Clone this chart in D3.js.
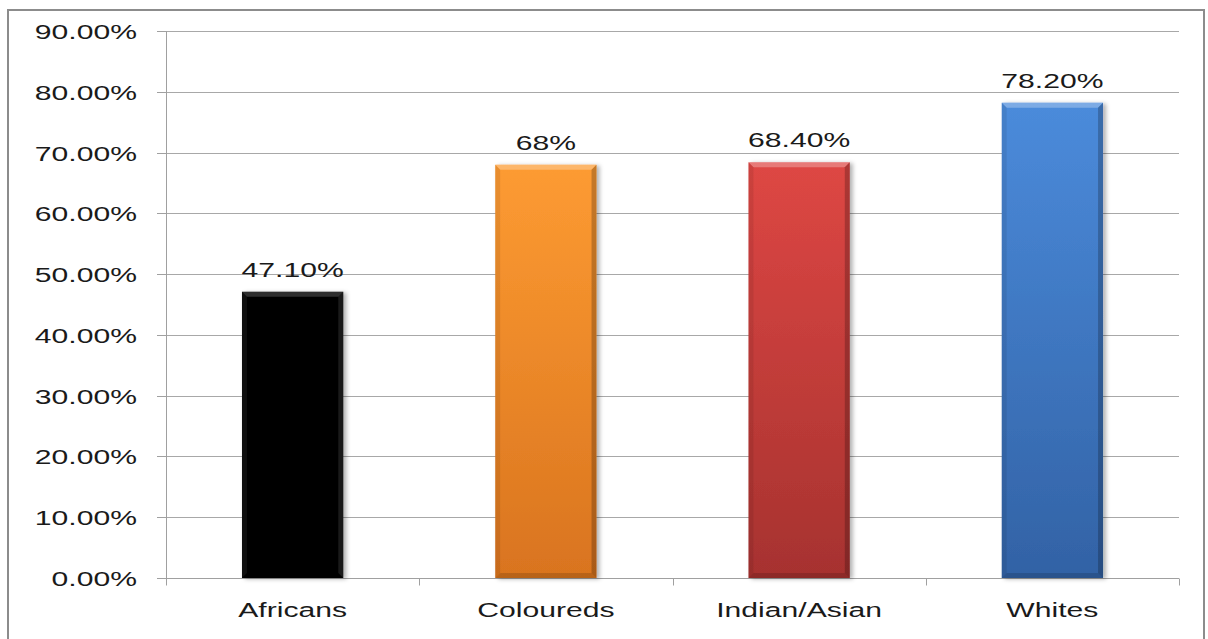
<!DOCTYPE html>
<html>
<head>
<meta charset="utf-8">
<script src="https://cdn.jsdelivr.net/npm/d3@7"></script>
<style>
  body { margin: 0; background: #fff; }
  svg { display: block; }
  text { font-family: "Liberation Sans", Arial, sans-serif; fill: #1a1a1a; }
</style>
</head>
<body>
<svg id="chart" width="1208" height="639"></svg>
<script>
// Share of each population group (percent)
const groups = ['Africans', 'Coloureds', 'Indian/Asian', 'Whites'];
const values = [47.1, 68, 68.4, 78.2];
const valueLabels = ['47.10%', '68%', '68.40%', '78.20%'];
const yTicks = [0, 10, 20, 30, 40, 50, 60, 70, 80, 90];

// top / bottom gradient stops per bar
const barTop = ['#020202', '#fd9b32', '#de4744', '#4b8bdb'];
const barBottom = ['#000000', '#d9741f', '#a6322f', '#3262a5'];

const W = 1208, H = 639;
const margin = { left: 166, right: 29, top: 31, bottom: 61 };
const FONT = 20.5, SX = 1.47;   // labels are drawn wide

const svg = d3.select('#chart');
const defs = svg.append('defs');

groups.forEach((g, i) => {
  const grad = defs.append('linearGradient')
    .attr('id', 'bar-grad-' + i)
    .attr('x1', 0).attr('y1', 0).attr('x2', 0).attr('y2', 1);
  grad.append('stop').attr('offset', '0%').attr('stop-color', barTop[i]);
  grad.append('stop').attr('offset', '100%').attr('stop-color', barBottom[i]);
});

const shadow = defs.append('filter').attr('id', 'bar-shadow')
  .attr('x', '-10%').attr('y', '-10%').attr('width', '130%').attr('height', '120%');
shadow.append('feDropShadow')
  .attr('dx', 3).attr('dy', 1).attr('stdDeviation', 2)
  .attr('flood-color', '#000').attr('flood-opacity', 0.3);

// outer frame
svg.append('rect')
  .attr('x', 8).attr('y', 10)
  .attr('width', 1196).attr('height', 640)
  .attr('fill', 'none').attr('stroke', '#8c8c8c').attr('stroke-width', 2);

const x = d3.scaleBand()
  .domain(groups)
  .range([margin.left, W - margin.right])
  .paddingInner(0.6)
  .paddingOuter(0.3);

const y = d3.scaleLinear()
  .domain([0, 90])
  .range([H - margin.bottom, margin.top]);

// gridlines
svg.append('g').selectAll('line')
  .data(yTicks.filter(t => t > 0))
  .join('line')
  .attr('x1', margin.left).attr('x2', W - margin.right)
  .attr('y1', d => Math.round(y(d)) + 0.5).attr('y2', d => Math.round(y(d)) + 0.5)
  .attr('stroke', '#a8a8a8');

// y axis
svg.append('line')
  .attr('x1', margin.left + 0.5).attr('x2', margin.left + 0.5)
  .attr('y1', y(90)).attr('y2', y(0) + 1)
  .attr('stroke', '#a0a0a0');

const yTickG = svg.append('g').selectAll('g')
  .data(yTicks)
  .join('g')
  .attr('transform', d => `translate(0,${Math.round(y(d)) + 0.5})`);
yTickG.append('line')
  .attr('x1', margin.left - 9).attr('x2', margin.left)
  .attr('stroke', '#a0a0a0');
yTickG.append('text')
  .attr('transform', `translate(137,0) scale(${SX},1)`)
  .attr('text-anchor', 'end')
  .attr('dy', '0.35em')
  .attr('font-size', FONT)
  .text(d => d.toFixed(2) + '%');

// x axis
const y0 = Math.round(y(0)) + 0.5;
svg.append('line')
  .attr('x1', margin.left).attr('x2', W - margin.right)
  .attr('y1', y0).attr('y2', y0)
  .attr('stroke', '#a0a0a0');
const step = x.step();
const bounds = d3.range(groups.length + 1).map(i => margin.left + i * step);
svg.append('g').selectAll('line')
  .data(bounds)
  .join('line')
  .attr('x1', d => Math.round(d) + 0.5).attr('x2', d => Math.round(d) + 0.5)
  .attr('y1', y0).attr('y2', y0 + 7)
  .attr('stroke', '#a0a0a0');

svg.append('g').selectAll('text')
  .data(groups)
  .join('text')
  .attr('transform', d => `translate(${x(d) + x.bandwidth() / 2},617) scale(${SX},1)`)
  .attr('text-anchor', 'middle')
  .attr('font-size', FONT)
  .text(d => d);

// bars with a bevelled look
const bw = x.bandwidth();
const bev = 5;
const bar = svg.append('g').selectAll('g')
  .data(groups.map((g, i) => ({ g, v: values[i], label: valueLabels[i], i })))
  .join('g')
  .attr('transform', d => `translate(${x(d.g)},${y(d.v)})`);

bar.append('rect')
  .attr('width', bw)
  .attr('height', d => y(0) - y(d.v))
  .attr('fill', d => `url(#bar-grad-${d.i})`)
  .attr('filter', 'url(#bar-shadow)');

// top highlight
bar.append('path')
  .attr('d', `M0,0 H${bw} L${bw - bev},${bev} H${bev} Z`)
  .attr('fill', '#fff').attr('opacity', d => d.i === 0 ? 0.18 : 0.28);
// left edge
bar.append('path')
  .attr('d', d => { const h = y(0) - y(d.v); return `M0,0 L${bev},${bev} V${h - bev} L0,${h} Z`; })
  .attr('fill', d => d.i === 0 ? '#fff' : '#000').attr('opacity', d => d.i === 0 ? 0.06 : 0.08);
// right edge
bar.append('path')
  .attr('d', d => { const h = y(0) - y(d.v); return `M${bw},0 L${bw - bev},${bev} V${h - bev} L${bw},${h} Z`; })
  .attr('fill', d => d.i === 0 ? '#fff' : '#000').attr('opacity', d => d.i === 0 ? 0.1 : 0.22);
// bottom edge
bar.append('path')
  .attr('d', d => { const h = y(0) - y(d.v); return `M0,${h} L${bev},${h - bev} H${bw - bev} L${bw},${h} Z`; })
  .attr('fill', '#000').attr('opacity', 0.15);

// value labels
bar.append('text')
  .attr('transform', `translate(${bw / 2},-15) scale(${SX},1)`)
  .attr('text-anchor', 'middle')
  .attr('font-size', FONT)
  .text(d => d.label);
</script>
</body>
</html>
